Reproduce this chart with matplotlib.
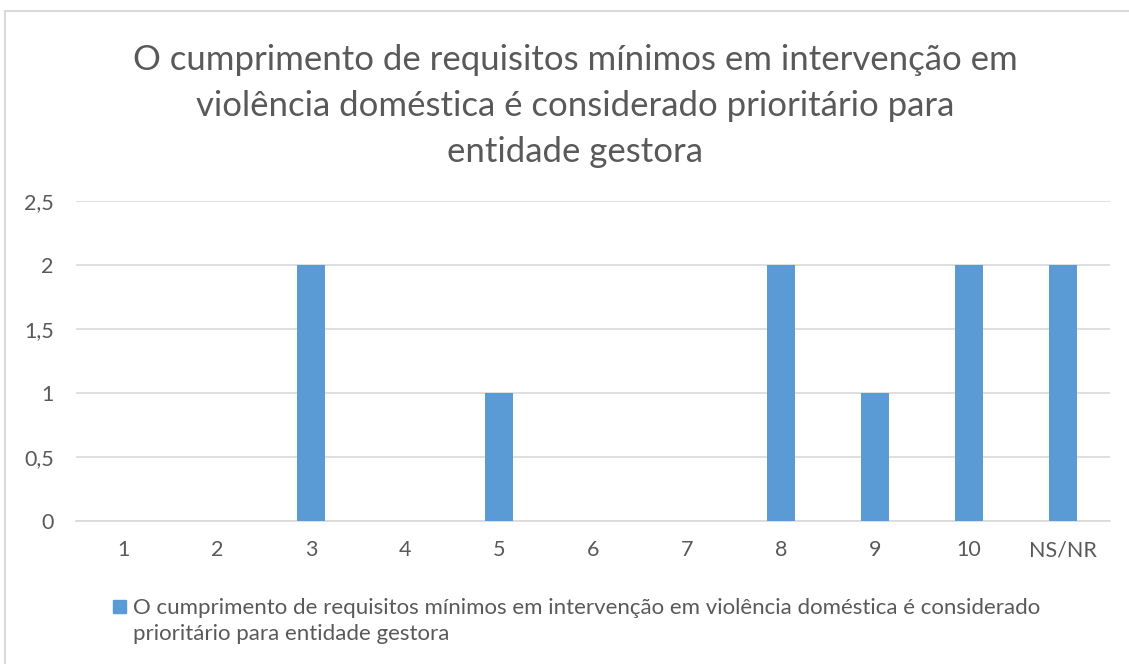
import matplotlib.pyplot as plt
import matplotlib.patches as patches

categories = ['1', '2', '3', '4', '5', '6', '7', '8', '9', '10', 'NS/NR']
values = [0, 0, 2, 0, 1, 0, 0, 2, 1, 2, 2]
title = ('O cumprimento de requisitos mínimos em intervenção em\n'
         'violência doméstica é considerado prioritário para\n'
         'entidade gestora')
legend_text = ('O cumprimento de requisitos mínimos em intervenção em violência doméstica é considerado\n'
               'prioritário para entidade gestora')
yticks = [0, 0.5, 1, 1.5, 2, 2.5]
ytick_labels = ['0', '0,5', '1', '1,5', '2', '2,5']

bar_color = '#5b9bd5'
text_color = '#595959'
grid_color = '#d9d9d9'

plt.rcParams['font.family'] = ['Lato', 'DejaVu Sans']

fig = plt.figure(figsize=(11.29, 6.64), dpi=100)
W, H = 1129, 664

# outer chart frame
frame = patches.Rectangle((5 / W, -0.01), 1.2, 1 - 11 / H + 0.01, transform=fig.transFigure,
                          fill=False, edgecolor=grid_color, linewidth=1.5)
fig.patches.append(frame)

ax = fig.add_axes([76 / W, 1 - 521 / H, (1110 - 76) / W, (521 - 201) / H])
x = range(len(categories))
ax.bar(x, values, width=0.3, color=bar_color, zorder=3)
ax.set_xlim(-0.5, len(categories) - 0.5)
ax.set_ylim(0, 2.5)
ax.set_yticks(yticks)
ax.set_yticklabels(ytick_labels)
ax.set_xticks(list(x))
ax.set_xticklabels(categories)
ax.tick_params(length=0, labelsize=15.5, colors=text_color)
ax.tick_params(axis='y', pad=16)
ax.tick_params(axis='x', pad=14)
ax.yaxis.grid(True, color=grid_color, linewidth=1.2)
for side in ['top', 'right', 'left']:
    ax.spines[side].set_visible(False)
ax.spines['bottom'].set_color(grid_color)
ax.spines['bottom'].set_linewidth(1.2)

fig.text(575 / W, 1 - 106 / H, title, ha='center', va='center', fontsize=25,
         color=text_color, linespacing=1.55)

# legend
fig.patches.append(patches.Rectangle((113 / W, 1 - 613 / H), 13 / W, 13 / H,
                                     transform=fig.transFigure, color=bar_color))
fig.text(133 / W, 1 - 621 / H, legend_text, ha='left', va='center', fontsize=16,
         color=text_color, linespacing=1.4)

fig.savefig('out.png', dpi=100)
